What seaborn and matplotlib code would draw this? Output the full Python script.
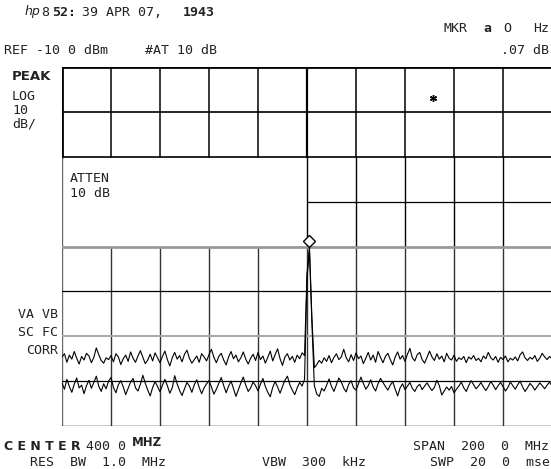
import numpy as np
import pandas as pd
import seaborn as sns
import matplotlib.pyplot as plt

W, H = 551, 469

# sweep: 300 .. 500 MHz, 1 MHz per point
freq = np.arange(300, 501)

trace_a = [
    -74.6, -73.9, -75.8, -74.2, -75.1, -73.4, -74.9, -76.2, -74.5, -75.3, -73.8, -74.4, -75.9, -74.7, -72.6, -74.1, -75.4, -76.0, -74.8, -75.2,
    -74.3, -75.7, -73.9, -74.6, -76.3, -75.0, -74.2, -75.6, -73.5, -74.9, -75.8, -74.4, -73.2, -74.7, -76.1, -75.3, -74.0, -75.5, -73.7, -74.8,
    -75.9, -74.5, -73.3, -75.2, -76.6, -74.8, -73.6, -75.1, -74.3, -75.7, -74.0, -73.1, -74.9, -76.0, -75.2, -74.4, -75.8, -73.9, -74.6, -75.5,
    -74.1, -72.9, -74.7, -75.9, -74.5, -73.8, -75.3, -76.4, -74.6, -73.4, -75.0, -74.2, -75.7, -74.8, -73.5, -75.1, -76.2, -74.9, -74.0, -75.4,
    -73.6, -75.2, -74.4, -76.0, -74.7, -73.3, -75.5, -74.1, -72.8, -75.0, -76.5, -74.6, -73.9, -75.3, -74.5, -75.8, -74.2, -75.0, -73.7, -74.3,
    -56.0, -50.0, -66.0, -77.0,
    -76.3, -75.4, -76.0, -74.8, -75.6, -74.3, -75.9, -74.7, -73.9, -75.2, -74.6, -72.9, -74.8, -75.7, -74.1, -75.4,
    -73.7, -75.0, -74.4, -76.1, -74.9, -73.6, -75.3, -74.2, -75.8, -73.4, -74.7, -75.9, -74.5, -73.8, -75.2, -76.4, -74.6, -73.5, -75.1, -74.3,
    -75.6, -74.0, -72.7, -74.8, -75.5, -74.1, -73.6, -75.2, -76.0, -74.7, -73.3, -74.6, -75.4, -73.9, -75.1, -74.4, -75.7, -73.8, -74.9, -75.3,
    -74.2, -75.6, -74.8, -75.2, -74.5, -75.9, -74.6, -75.1, -74.3, -75.4, -74.9, -75.7, -74.4, -75.0, -73.6, -74.8, -75.3, -74.5, -75.8, -74.7,
    -75.2, -74.4, -75.7, -74.9, -75.3, -74.6, -75.5, -74.1, -73.5, -74.8, -75.4, -74.7, -75.1, -74.3, -75.6, -74.9, -73.8, -74.6, -75.2, -74.5, -75.0,
]

trace_b = [
    -80.4, -81.8, -79.6, -81.2, -82.5, -80.7, -79.3, -81.5, -80.9, -82.8, -81.0, -79.8, -81.6, -80.3, -78.9, -81.1, -82.3, -80.6, -81.7, -80.0,
    -79.2, -81.4, -82.6, -80.8, -79.9, -81.3, -83.0, -81.6, -80.2, -79.4, -81.5, -82.2, -80.7, -78.7, -80.5, -82.0, -83.3, -81.4, -80.1, -81.2,
    -82.4, -80.9, -79.6, -81.0, -82.7, -81.5, -78.8, -80.6, -82.1, -83.2, -81.7, -80.3, -81.1, -82.5, -80.8, -79.7, -81.4, -82.8, -81.5, -80.6,
    -79.9, -81.3, -82.9, -81.8, -80.5, -79.2, -81.0, -82.6, -81.1, -80.0, -81.7, -83.4, -81.9, -80.4, -79.1, -80.9, -82.3, -81.5, -80.2, -81.0,
    -82.2, -80.7, -79.4, -81.2, -82.5, -83.5, -81.4, -80.1, -81.3, -82.7, -81.2, -79.8, -78.9, -80.8, -82.0, -83.0, -81.5, -80.3, -81.1, -79.6,
    -57.0, -51.0, -67.0, -81.0,
    -82.9, -83.4, -81.6, -82.2, -80.9, -79.5, -81.2, -82.3, -80.8, -79.3, -80.2, -81.6, -82.4, -80.7, -79.9, -81.5,
    -82.0, -80.6, -79.1, -80.5, -81.8, -81.0, -79.7, -81.3, -82.2, -80.6, -79.4, -80.3, -81.2, -82.0, -80.9, -80.1, -81.8, -83.3, -81.5, -80.6,
    -81.9, -81.1, -80.3, -81.6, -82.3, -81.2, -80.7, -81.9, -81.1, -80.4, -81.3, -82.1, -81.4, -79.8, -81.0, -83.1, -82.2, -81.3, -82.0, -81.2,
    -82.6, -81.8, -81.1, -80.2, -81.5, -82.3, -81.0, -79.9, -80.8, -81.7, -81.1, -80.3, -81.3, -82.1, -81.2, -80.1, -80.9, -81.9, -81.0, -80.3,
    -81.2, -82.2, -81.4, -80.2, -81.0, -81.8, -80.8, -80.0, -81.3, -82.3, -81.5, -80.5, -81.1, -82.0, -81.2, -80.4, -81.0, -81.7, -80.9, -80.2, -81.1,
]

# markers
peak_mkr = (401, -48.8)
ref_mkr = (451.4, -16.9)

df = pd.concat([
    pd.DataFrame({'freq': freq, 'level': trace_a, 'trace': 'A'}),
    pd.DataFrame({'freq': freq, 'level': trace_b, 'trace': 'B'}),
])

sns.set_style('white')
plt.rcParams['font.family'] = ['DejaVu Sans Mono', 'DejaVu Sans']

fig = plt.figure(figsize=(W / 100, H / 100), dpi=100)
ax = fig.add_axes([62 / W, 1 - 426 / H, 490 / W, 359 / H])
ax.set_xlim(300, 500)
ax.set_ylim(-90, -10)
ax.axis('off')

# graticule
cols = np.arange(320, 500, 20)
for f in cols:
    ax.plot([f, f], [-30, -10], color='black', lw=1.1)
    ax.plot([f, f], [-90, -50], color='#333333', lw=1.0)
    if f >= 400:
        ax.plot([f, f], [-50, -30], color='black', lw=1.0)
ax.plot([300, 300], [-30, -10], color='black', lw=2.0)
ax.plot([300, 300], [-90, -30], color='#666666', lw=1.0)
ax.plot([400, 400], [-30, -10], color='black', lw=1.6)
ax.plot([300, 500], [-10, -10], color='black', lw=2.0)
ax.plot([300, 500], [-20, -20], color='black', lw=1.2)
ax.plot([300, 500], [-30, -30], color='black', lw=1.2)
ax.plot([400, 500], [-40, -40], color='black', lw=0.9)
ax.plot([300, 500], [-50, -50], color='#999999', lw=2.0)
ax.plot([300, 500], [-60, -60], color='black', lw=0.9)
ax.plot([300, 500], [-70, -70], color='#aaaaaa', lw=1.5)
ax.plot([300, 500], [-80, -80], color='black', lw=0.9)
ax.plot([300, 500], [-90, -90], color='black', lw=1.0)

sns.lineplot(data=df, x='freq', y='level', units='trace', estimator=None,
             sort=False, color='black', lw=0.8, ax=ax, legend=False)

ax.plot(*peak_mkr, marker='D', ms=6, mfc='white', mec='black', mew=1.0)
ax.plot(*ref_mkr, marker=(6, 2, 0), ms=5, color='black', mew=1.0)


def put(x, y, s, size=9.5, weight='normal', ha='left', **kw):
    fig.text(x / W, 1 - y / H, s, fontsize=size, fontweight=weight, ha=ha,
             va='center', color='#222222', **kw)


put(25, 12, 'hp', size=9, style='italic', family='DejaVu Sans')
put(41, 12, '8')
put(52, 12, '52:', weight='bold')
put(82, 12, '39 APR 07,')
put(183, 12, '1943', weight='bold')

put(444, 29, 'MKR')
put(483, 29, 'a', weight='bold')
put(503, 29, 'O')
put(549, 29, 'Hz', ha='right')
put(4, 51, 'REF -10 0 dBm')
put(145, 51, '#AT 10 dB')
put(549, 51, '.07 dB', ha='right')

put(12, 77, 'PEAK', weight='bold', family='DejaVu Sans')
put(12, 96, 'LOG')
put(12, 110, '10')
put(12, 124, 'dB/')

put(70, 178, 'ATTEN')
put(70, 193, '10 dB')

put(58, 314, 'VA VB', ha='right')
put(58, 332, 'SC FC', ha='right')
put(58, 350, 'CORR', ha='right')

put(4, 446, 'C E N T E R', weight='bold', size=9, family='DejaVu Sans')
put(86, 446, '400 0')
put(132, 442, 'MHZ', weight='bold', size=8.5, family='DejaVu Sans')
put(549, 446, 'SPAN  200  0  MHz', ha='right')
put(30, 462, 'RES  BW  1.0  MHz')
put(262, 462, 'VBW  300  kHz')
put(550, 462, 'SWP  20  0  mse', ha='right')

fig.savefig('out.png', dpi=100)
